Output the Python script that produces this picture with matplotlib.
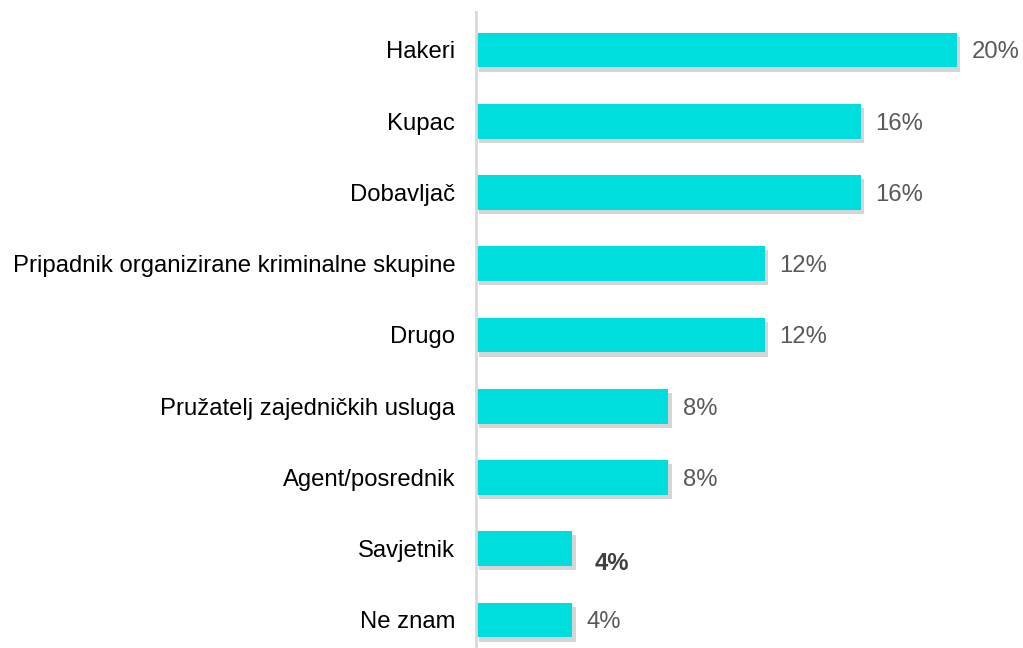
import matplotlib
matplotlib.use("Agg")
import matplotlib.pyplot as plt
import matplotlib.patheffects as pe

# Dados
kategorije = ["Hakeri", "Kupac", "Dobavljač", "Pripadnik organizirane kriminalne skupine",
              "Drugo", "Pružatelj zajedničkih usluga", "Agent/posrednik", "Savjetnik", "Ne znam"]
postotci = [20, 16, 16, 12, 12, 8, 8, 4, 4]
oznake = ["20%", "16%", "16%", "12%", "12%", "8%", "8%", "4%", "4%"]
podebljano = [False, False, False, False, False, False, False, True, False]

plt.rcParams['font.family'] = ['Liberation Sans', 'DejaVu Sans']

fig = plt.figure(figsize=(10.23, 6.48), dpi=100)
ax = fig.add_axes([476 / 1023, 0, 547 / 1023, 636 / 648])

y = list(range(len(kategorije)))
bars = ax.barh(y, postotci, height=0.49, color="#00DDDD")
for b in bars:
    b.set_path_effects([pe.SimplePatchShadow(offset=(2.5, -3), shadow_rgbFace="#888888", alpha=0.35),
                        pe.Normal()])

for i, (v, t, bold) in enumerate(zip(postotci, oznake, podebljano)):
    if bold:
        ax.text(v + 0.95, i + 0.17, t, va="center_baseline", ha="left", fontsize=17.2,
                fontweight="bold", color="#404040")
    else:
        ax.text(v + 0.6, i, t, va="center_baseline", ha="left", fontsize=17.2, color="#595959")

ax.set_yticks(y)
ax.set_yticklabels(kategorije, fontsize=17.2)
ax.tick_params(axis="y", length=0, pad=15)
ax.set_ylim(8.393, -0.533)
ax.set_xlim(0, 547 / 24.05)
ax.set_xticks([])
for s in ["top", "right", "bottom"]:
    ax.spines[s].set_visible(False)
ax.spines["left"].set_color("#D9D9D9")
ax.spines["left"].set_linewidth(2)

fig.savefig("out.png", dpi=100)
